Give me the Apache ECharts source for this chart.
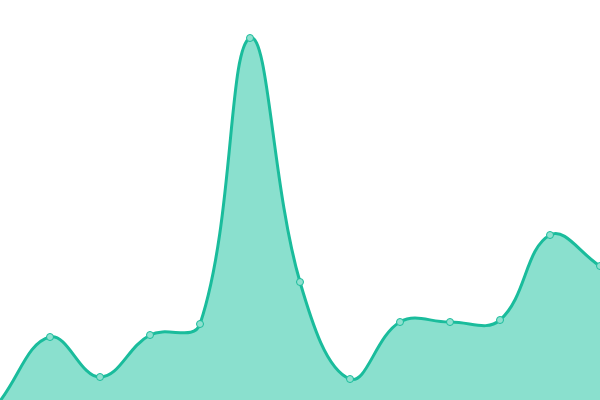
<!DOCTYPE html>
<html>
<head>
    <meta http-equiv="Content-Type" content="text/html; charset=UTF-8">
    <title>ECharts</title>
    <script src="https://cdn.jsdelivr.net/npm/echarts@6/dist/echarts.min.js"></script>
    <style>html,body{margin:0;padding:0;}</style>
</head>
<body>
<div id="chart" style="width: 600px; height: 400px;"></div>

<script type="text/javascript">
    var categories = ['1', '2', '3', '4', '5', '6', '7', '8', '9', '10', '11', '12', '13'];
    var values = [-1, 63, 23, 65, 76, 362, 118, 21, 78, 78, 80, 165, 134];

    var chart = echarts.init(document.getElementById('chart'));

    // distance weighted spline (tension 0.4) through the axis coords
    function curvePath(pts, top, bottom) {
        var t = 0.4;
        var cps = pts.map(function (p, i) {
            var p0 = pts[i - 1] || p, p2 = pts[i + 1] || p;
            var d01 = Math.hypot(p[0] - p0[0], p[1] - p0[1]);
            var d12 = Math.hypot(p2[0] - p[0], p2[1] - p[1]);
            var s = d01 + d12 || 1;
            var fa = t * d01 / s, fb = t * d12 / s;
            var clamp = function (y) { return Math.max(top, Math.min(bottom, y)); };
            return {
                prev: [p[0] - fa * (p2[0] - p0[0]), clamp(p[1] - fa * (p2[1] - p0[1]))],
                next: [p[0] + fb * (p2[0] - p0[0]), clamp(p[1] + fb * (p2[1] - p0[1]))]
            };
        });
        var d = 'M' + pts[0][0] + ',' + pts[0][1];
        for (var i = 0; i < pts.length - 1; i++) {
            var a = cps[i].next, b = cps[i + 1].prev, p = pts[i + 1];
            d += 'C' + a[0] + ',' + a[1] + ' ' + b[0] + ',' + b[1] + ' ' + p[0] + ',' + p[1];
        }
        return d;
    }

    chart.setOption({
        animation: false,
        grid: { left: 0, right: 0, top: 0, bottom: 0 },
        xAxis: {
            type: 'category',
            boundaryGap: false,
            data: categories,
            show: false
        },
        yAxis: {
            type: 'value',
            min: 0,
            max: 400,
            show: false
        },
        series: [
            {
                type: 'custom',
                data: values,
                renderItem: function (params, api) {
                    if (params.dataIndex !== 0) return;
                    var pts = values.map(function (v, i) { return api.coord([i, v]); });
                    var base = api.coord([0, 0])[1];
                    var top = api.coord([0, 400])[1];
                    var line = curvePath(pts, top, base + 10);
                    var area = line + 'L' + pts[pts.length - 1][0] + ',' + (base + 10) + 'L' + pts[0][0] + ',' + (base + 10) + 'Z';
                    return {
                        type: 'group',
                        children: [
                            { type: 'path', shape: { pathData: area }, style: { fill: '#8ae0ce', stroke: null } },
                            { type: 'path', shape: { pathData: line }, style: { fill: null, stroke: '#1abc9c', lineWidth: 3 } }
                        ]
                    };
                }
            },
            {
                type: 'scatter',
                data: values,
                symbol: 'circle',
                symbolSize: 7,
                z: 5,
                itemStyle: { color: '#8fe0cf', borderColor: '#1abc9c', borderWidth: 1, opacity: 1 }
            }
        ]
    });
</script>
</body>
</html>
